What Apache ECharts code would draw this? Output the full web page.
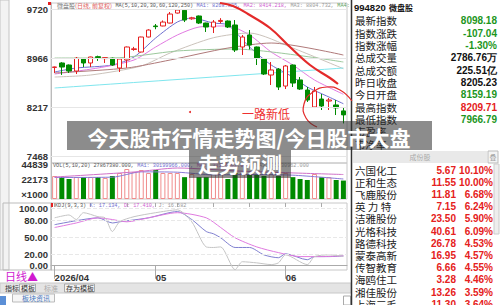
<!DOCTYPE html>
<html>
<head>
<meta charset="utf-8">
<script src="https://cdn.jsdelivr.net/npm/echarts@6/dist/echarts.min.js"></script>
<style>
  html, body { margin: 0; padding: 0; background: #fff; }
  #main { width: 500px; height: 305px; }
</style>
</head>
<body>
<div id="main"></div>
<script>
// 交易日
const dates = ['04-13', '04-14', '04-15', '04-16', '04-17', '04-20', '04-21', '04-22', '04-23', '04-24', '04-27', '04-28', '04-29', '04-30',
  '05-06', '05-07', '05-08', '05-11', '05-12', '05-13', '05-14', '05-15', '05-18', '05-19', '05-20', '05-21', '05-22', '05-25', '05-26', '05-27', '05-28', '05-29',
  '06-01', '06-02', '06-03', '06-04', '06-05', '06-08', '06-09', '06-10', '06-11']
const monthLabels = { '04-13': '2026/04', '05-06': '05', '06-01': '06' }
const weekStarts = ['04-13', '04-20', '04-27', '05-06', '05-11', '05-18', '05-25', '06-01', '06-08']

// K线 开 收 低 高
const opens = [8825, 8893, 8862, 8770, 8954, 8893, 8990, 8960, 8966, 8816, 8940, 9100, 9061, 9291, 9460, 9460, 9505, 9658, 9700, 9570, 9613,
  9505, 9444, 9530, 9536, 9475, 9138, 9322, 9138, 8954, 8709, 8800, 8540, 8862, 8633, 8479, 8219, 8341, 8310, 8250, 8159.19]
const closes = [8832, 8831, 8770, 8966, 8893, 8985, 8975, 8975, 8862, 8954, 9138, 9110, 9291, 9398, 9450, 9520, 9643, 9705, 9551, 9585, 9505,
  9444, 9520, 9545, 9444, 9092, 9291, 9168, 8970, 8724, 8786, 8525, 8847, 8586, 8494, 8326, 8464, 8234, 8326, 8205.23, 8098.18]
const lows = [8740, 8710, 8740, 8724, 8831, 8831, 8925, 8893, 8850, 8755, 8820, 9080, 9055, 9285, 9410, 9455, 9500, 9650, 9520, 9555, 9490,
  9368, 9352, 9500, 9429, 9061, 9015, 9100, 8862, 8709, 8556, 8479, 8494, 8525, 8480, 8296, 8203, 8173, 8173, 8096, 7966.79]
const highs = [8838, 8905, 8870, 8985, 8962, 8990, 9005, 8978, 8975, 8960, 9145, 9140, 9295, 9410, 9490, 9545, 9674, 9715, 9719.96, 9600, 9620,
  9510, 9551, 9580, 9545, 9551, 9322, 9398, 9145, 8960, 8908, 8816, 8862, 8870, 8678, 8525, 8525, 8418, 8356, 8326, 8209.71]

// 成交量(×1000)
const volumes = [34750, 33240, 30220, 33240, 33240, 33240, 33240, 31730, 34750, 39290, 45330, 40800, 43820, 39290, 43820, 39290, 39290, 39290,
  33000, 37800, 33000, 33000, 39300, 37800, 30200, 39300, 39300, 36300, 36300, 34800, 37800, 34800, 39300, 33000, 30200, 28700, 37800, 33000,
  33000, 28700, 27867]

// 均线 [序号, 值]
const ma5 = [[0, 8755], [3, 8816], [8, 8862], [11, 8985], [14, 9276], [17, 9521], [19, 9582], [22, 9505], [24, 9475], [27, 9138], [30, 8862], [33, 8678], [35, 8525], [38, 8372], [40, 8269]]
const ma10 = [[0, 8724], [6, 8816], [11, 8939], [14, 9138], [17, 9322], [20, 9444], [24, 9460], [27, 9322], [30, 9061], [33, 8862], [36, 8632], [40, 8414]]
const ma20 = [[0, 8678], [5, 8709], [12, 8847], [16, 9046], [22, 9280], [27, 9352], [33, 9122], [40, 8805]]
const ma30 = [[0, 8969], [8, 8969], [17, 9077], [25, 9107], [40, 8908]]
const ma60 = [[0, 8740], [10, 8816], [16, 8939], [24, 9122], [30, 9199], [40, 9015]]
const ma250 = [[0, 8510], [40, 8816]]
const volMa5 = [[0, 32500], [8, 33000], [12, 41000], [17, 40500], [22, 36500], [27, 37000], [33, 36000], [40, 30200]]
const volMa10 = [[0, 33200], [11, 40800], [17, 46800], [26, 42000], [40, 37000]]

// KDJ
const kLine = [[0, 72], [3, 79], [6, 84], [8, 75], [9, 77], [13, 84], [17, 95], [19, 81], [21, 60], [22, 56], [23, 49], [25, 32], [27, 32], [29, 19], [31, 14], [32, 21], [35, 10.5], [36, 16], [38, 16], [40, 17.134]]
const dLine = [[0, 67], [3, 75], [6, 84], [8, 81], [10, 77], [13, 84], [17, 93], [21, 84], [23, 67], [25, 49], [28, 33], [31, 23], [34, 16], [37, 16], [40, 17.41]]
const jLine = [[0, 84], [2, 89], [3, 81], [4, 93], [6, 86], [7, 84], [8, 60], [9, 77], [11, 86], [14, 93], [17, 98], [19, 77], [21, 33], [22, 32], [23, 33], [25, -7], [26, 7], [28, 5], [30, 2], [31, 5], [32, 19], [35, 2], [36, 16], [38, 19], [40, 16.582]]

// 刻度
const priceTicks = [7468, 8217, 8966, 9720]
const volTicks = [0, 22173, 44839]
const kdjTicks = [0, 20, 50, 80, 100]

// 右侧行情
const quoteLabels = ['最新指数', '指数涨跌', '指数涨幅', '总成交量', '总成交额', '昨日收盘', '今日开盘', '最高指数', '最低指数', '市盈率', '市净率']
const quoteValues = ['8098.18', '-107.04', '-1.30%', '2786.76万', '225.51亿', '8205.23', '8159.19', '8209.71', '7966.79', '', '']
const quoteTones = ['down', 'down', 'down', 'flat', 'flat', 'flat', 'down', 'up', 'down', 'flat', 'flat']
const stockNames = ['六国化工', '正和生态', '飞鹿股份', '英 力 特', '洁雅股份', '光格科技', '路德科技', '蒙泰高新', '传智教育', '海鸥住工', '湘佳股份', '上海三毛']
const stockPrices = ['5.67', '11.55', '11.81', '7.15', '23.50', '40.61', '26.78', '16.95', '6.66', '3.28', '13.26', '11.30']
const stockPcts = ['10.10%', '10.00%', '6.68%', '6.24%', '5.90%', '6.09%', '4.53%', '4.57%', '4.55%', '4.46%', '3.59%', '3.64%']

const RED = '#e52020'
const GREEN = '#008a00'
const CN = '"Noto Sans CJK SC", sans-serif'
const NUM = '"Liberation Sans", Arial, sans-serif'
const MONO = '"Liberation Mono", "DejaVu Sans Mono", monospace'

const chart = echarts.init(document.getElementById('main'), null, { renderer: 'svg' })

const candleData = dates.map((d, i) => [opens[i], closes[i], lows[i], highs[i]])
const volData = volumes.map((v, i) => {
  const up = closes[i] >= opens[i]
  return {
    value: v,
    itemStyle: up ? { color: '#fff', borderColor: '#f08c8c', borderWidth: 1 } : { color: GREEN }
  }
})

const lineSeries = (name, data, color, xi, yi, width) => ({
  name, type: 'line', data, xAxisIndex: xi, yAxisIndex: yi,
  symbol: 'none', smooth: 0.25, silent: true,
  lineStyle: { color, width: width || 1 }, z: 3
})

const gridLine = (vals) => ({
  silent: true, symbol: 'none', label: { show: false },
  lineStyle: { color: '#e6e6e6', type: 'solid', width: 1 },
  data: vals.map(v => ({ yAxis: v }))
})

const yLabel = { color: '#333', fontFamily: NUM, fontWeight: 'bold', fontSize: 9.5, margin: 3 }
const axisCommon = {
  type: 'category', data: dates, boundaryGap: true,
  axisLine: { show: false }, axisTick: { show: false }, axisLabel: { show: false }
}

// 右侧面板文字
const panel = []
panel.push({
  type: 'text', x: 354, y: 7,
  style: { text: '{a|994820} {b|微盘股}', rich: {
    a: { font: 'bold 9.5px ' + NUM, fill: '#111' },
    b: { font: 'bold 8px ' + CN, fill: '#111' }
  }, verticalAlign: 'middle' }
})
quoteLabels.forEach((t, i) => {
  const y = 20.7 + i * 12.35
  panel.push({ type: 'text', x: 355, y, style: { text: t, font: '10.5px ' + CN, fill: '#222', verticalAlign: 'middle' } })
  const tone = quoteTones[i]
  panel.push({ type: 'text', x: 497, y, style: {
    text: quoteValues[i], font: 'bold 10px ' + NUM, align: 'right', verticalAlign: 'middle',
    fill: tone === 'down' ? '#1c961c' : tone === 'up' ? RED : '#111'
  } })
})
panel.push({ type: 'rect', shape: { x: 353, y: 151, width: 134, height: 12 }, style: { fill: '#e9e9e9' } })
panel.push({ type: 'text', x: 420, y: 157, style: { text: '成份股', font: '7px ' + CN, fill: '#aaa', align: 'center', verticalAlign: 'middle' } })
panel.push({ type: 'rect', shape: { x: 488, y: 151, width: 10, height: 12 }, style: { fill: '#f4f4f4', stroke: '#bbb' } })
panel.push({ type: 'text', x: 493, y: 157, style: { text: '叠', font: '7px ' + CN, fill: '#999', align: 'center', verticalAlign: 'middle' } })
panel.push({ type: 'rect', shape: { x: 494, y: 164, width: 5, height: 70 }, style: { fill: '#eee', stroke: '#ccc' } })
stockNames.forEach((n, i) => {
  const y = 170 + i * 12.2
  panel.push({ type: 'text', x: 355, y, style: { text: n, font: '10.5px ' + CN, fill: '#222', verticalAlign: 'middle' } })
  panel.push({ type: 'text', x: 456, y, style: { text: stockPrices[i], font: 'bold 10px ' + NUM, fill: RED, align: 'right', verticalAlign: 'middle' } })
  panel.push({ type: 'text', x: 493, y, style: { text: stockPcts[i], font: 'bold 10px ' + NUM, fill: RED, align: 'right', verticalAlign: 'middle' } })
})

const option = {
  animation: false,
  backgroundColor: '#fff',
  grid: [
    { left: 51, width: 296, top: 3, height: 160, show: true, borderColor: '#c8c8c8', borderWidth: 1 },
    { left: 51, width: 296, top: 163, height: 36, show: true, borderColor: '#c8c8c8', borderWidth: 1 },
    { left: 51, width: 296, top: 203, height: 67, show: true, borderColor: '#c8c8c8', borderWidth: 1 }
  ],
  xAxis: [
    Object.assign({ gridIndex: 0 }, axisCommon),
    Object.assign({ gridIndex: 1 }, axisCommon),
    {
      type: 'category', data: dates, gridIndex: 2, boundaryGap: true,
      axisLine: { show: true, lineStyle: { color: '#aaa' } },
      axisTick: {
        show: true, alignWithLabel: true, length: 13, lineStyle: { color: '#aaa' },
        interval: (i, v) => !!monthLabels[v]
      },
      axisLabel: {
        show: true, interval: (i, v) => !!monthLabels[v], formatter: v => monthLabels[v] || '',
        align: 'left', margin: 2, color: '#333', fontFamily: NUM, fontWeight: 'bold', fontSize: 9.5
      }
    },
    {
      type: 'category', data: dates, gridIndex: 2, boundaryGap: true,
      axisLine: { show: false }, axisLabel: { show: false },
      axisTick: { show: true, inside: true, alignWithLabel: true, length: 4, lineStyle: { color: '#aaa' }, interval: (i, v) => weekStarts.indexOf(v) >= 0 }
    }
  ],
  yAxis: [
    {
      gridIndex: 0, min: 7361, max: 9812, splitLine: { show: false },
      axisLine: { show: true, lineStyle: { color: '#bbb' } }, axisTick: { show: false },
      axisLabel: Object.assign({ customValues: priceTicks, formatter: v => String(v) }, yLabel)
    },
    {
      gridIndex: 1, min: 0, max: 54400, splitLine: { show: false },
      axisLine: { show: true, lineStyle: { color: '#bbb' } }, axisTick: { show: false },
      axisLabel: Object.assign({ customValues: volTicks, formatter: v => v === 0 ? '×1000' : String(v), verticalAlign: 'bottom' }, yLabel)
    },
    {
      gridIndex: 2, min: -7.5, max: 110, splitLine: { show: false },
      axisLine: { show: true, lineStyle: { color: '#bbb' } }, axisTick: { show: false },
      axisLabel: Object.assign({ customValues: kdjTicks, formatter: v => v.toFixed(2) }, yLabel)
    }
  ],
  series: [
    {
      type: 'candlestick', data: candleData, xAxisIndex: 0, yAxisIndex: 0, barWidth: 5,
      itemStyle: { color: '#fff', color0: GREEN, borderColor: RED, borderColor0: GREEN, borderWidth: 1 },
      markLine: gridLine(priceTicks),
      markPoint: {
        symbol: 'none', silent: true,
        label: { show: true, color: '#666', fontFamily: MONO, fontSize: 5.2 },
        data: [
          { type: 'max', valueDim: 'highest', label: { position: 'right', offset: [-1, 1], formatter: '←' + highs[18] } },
          { type: 'min', valueDim: 'lowest', label: { position: 'left', offset: [1, 0], formatter: lows[40] + '—' } }
        ]
      },
      z: 4
    },
    lineSeries('MA5', ma5, '#6f6fd0', 0, 0),
    lineSeries('MA10', ma10, '#e27ae2', 0, 0),
    lineSeries('MA20', ma20, '#cbc3bb', 0, 0),
    lineSeries('MA30', ma30, '#9cc89c', 0, 0),
    lineSeries('MA60', ma60, '#b07a7a', 0, 0),
    lineSeries('MA250', ma250, '#7fe6ee', 0, 0),
    {
      type: 'bar', data: volData, xAxisIndex: 1, yAxisIndex: 1, barWidth: 5, silent: true, z: 2
    },
    lineSeries('VMA5', volMa5, '#8a7ad8', 1, 1),
    lineSeries('VMA10', volMa10, '#d070c8', 1, 1),
    Object.assign(lineSeries('K', kLine, '#8080d0', 2, 2), { markLine: Object.assign(gridLine([20, 50, 80, 100]), { lineStyle: { color: '#e8e8e8', width: 1 } }) }),
    lineSeries('D', dLine, '#e07ae0', 2, 2),
    lineSeries('J', jLine, '#c4c4c4', 2, 2)
  ],
  graphic: { elements: [
    // 左侧竖条
    { type: 'rect', shape: { x: 0, y: 0, width: 9, height: 270 }, style: { fill: '#f3f3f3', stroke: '#c4c4c4' }, z: 1 },
    { type: 'rect', shape: { x: 3, y: 203, width: 48, height: 67 }, style: { fill: 'none', stroke: '#bbb' }, z: 1 },
    { type: 'rect', shape: { x: 1, y: 2, width: 3, height: 3 }, style: { fill: RED } },
    { type: 'rect', shape: { x: 48, y: 2, width: 3, height: 3 }, style: { fill: RED } },
    // 图例
    { type: 'text', x: 57, y: 5.5, z: 10, style: {
      text: '{a|微盘股}{b|(日线, 前复权)} {c|MA(5,10,20,30,60,120,250)} {d|MA1: 8268.825,} {e|MA2: 8414.218,} {f|MA3: 8804.732,} {g|MA4:}',
      verticalAlign: 'middle',
      rich: {
        a: { font: '6px ' + CN, fill: '#777' }, b: { font: '6px ' + CN, fill: '#e06060' },
        c: { font: '5.2px ' + MONO, fill: '#555' }, d: { font: '5.2px ' + MONO, fill: '#6f6fd0' },
        e: { font: '5.2px ' + MONO, fill: '#d060d0' }, f: { font: '5.2px ' + MONO, fill: '#999' },
        g: { font: '5.2px ' + MONO, fill: '#5aa05a' }
      }
    } },
    { type: 'text', x: 53, y: 166, z: 10, style: {
      text: '{c|VOL(5,10,20) 27867380.000,} {d|MA1: 30199966.000,} {e|MA2: 33106802.000,} {f|MA3: 35230962.000}',
      verticalAlign: 'middle',
      rich: {
        c: { font: '5.2px ' + MONO, fill: '#555' }, d: { font: '5.2px ' + MONO, fill: '#6f6fd0' },
        e: { font: '5.2px ' + MONO, fill: '#d060d0' }, f: { font: '5.2px ' + MONO, fill: '#999' }
      }
    } },
    { type: 'rect', shape: { x: 51, y: 203, width: 2, height: 4 }, style: { fill: RED }, z: 10 },
    { type: 'text', x: 55, y: 206, z: 10, style: {
      text: '{c|KDJ(9,3,3)} {d|K: 17.134,} {e|D: 17.410,} {f|J: 16.582}',
      verticalAlign: 'middle',
      rich: {
        c: { font: '5.2px ' + MONO, fill: '#555' }, d: { font: '5.2px ' + MONO, fill: '#6f6fd0' },
        e: { font: '5.2px ' + MONO, fill: '#d060d0' }, f: { font: '5.2px ' + MONO, fill: '#999' }
      }
    } },
    // 日线
    { type: 'text', x: 5, y: 276, style: { text: '日线▲', font: '11px ' + CN, fill: '#d01ad0', verticalAlign: 'middle' } },
    // 底部工具条
    { type: 'rect', shape: { x: 0, y: 283, width: 351, height: 10 }, style: { fill: '#e4e4e4', stroke: '#c8c8c8' } },
    { type: 'text', x: 5, y: 288, style: { text: '指标', font: '7px ' + CN, fill: '#333', verticalAlign: 'middle' } },
    { type: 'rect', shape: { x: 19.5, y: 284, width: 16, height: 8 }, style: { fill: '#f2f2f2', stroke: '#aaa' } },
    { type: 'text', x: 21, y: 288, style: { text: '模板', font: '7px ' + CN, fill: '#333', verticalAlign: 'middle' } },
    { type: 'text', x: 44, y: 288, style: { text: '标准', font: '7px ' + CN, fill: '#aaa', verticalAlign: 'middle' } },
    { type: 'rect', shape: { x: 64.5, y: 284, width: 30, height: 8 }, style: { fill: '#f2f2f2', stroke: '#aaa' } },
    { type: 'text', x: 66, y: 288, style: { text: '存为模板', font: '7px ' + CN, fill: '#333', verticalAlign: 'middle' } },
    { type: 'rect', shape: { x: 12.5, y: 294, width: 42, height: 8 }, style: { fill: '#f6f6f6', stroke: '#bbb' } },
    { type: 'text', x: 22, y: 298, style: { text: '板块资讯', font: '7px ' + CN, fill: '#4a78c0', verticalAlign: 'middle' } },
    { type: 'rect', shape: { x: 0, y: 296, width: 6, height: 9 }, style: { fill: '#5b8fd6' } },
    { type: 'rect', shape: { x: 343.5, y: 296, width: 7, height: 9 }, style: { fill: '#fff', stroke: '#aaa' } },
    // 分隔线
    { type: 'line', shape: { x1: 351.5, y1: 0, x2: 351.5, y2: 305 }, style: { stroke: '#333', lineWidth: 1.5 } },
    // 标注
    { type: 'polyline', z: 20, shape: { points: [[220, 3], [233, 6], [248, 14], [270, 28], [290, 47], [310, 65], [330, 78], [338, 84]], smooth: 0.4 },
      style: { stroke: '#e42a2a', lineWidth: 2.2, fill: 'none' } },
    { type: 'polyline', z: 20, shape: { points: [[352, 101], [340, 90], [327, 87], [313, 92], [304, 104], [306, 118], [317, 127]], smooth: 0.5 },
      style: { stroke: '#e42a2a', lineWidth: 1.2, fill: 'none' } },
    { type: 'text', x: 266, y: 113, z: 20, style: { text: '一路新低', font: '12px ' + CN, fill: '#ee3030', align: 'center', verticalAlign: 'middle' } },
    { type: 'circle', z: 20, shape: { cx: 190, cy: 112, r: 1 }, style: { fill: '#e42a2a' } },
    // 标题横幅
    { type: 'rect', z: 30, shape: { x: 67, y: 121, width: 365, height: 29 }, style: { fill: 'rgba(45,45,45,0.55)' } },
    { type: 'rect', z: 30, shape: { x: 189, y: 150, width: 102, height: 28 }, style: { fill: 'rgba(45,45,45,0.55)' } },
    { type: 'text', z: 31, x: 249, y: 137, style: { text: '今天股市行情走势图/今日股市大盘', font: 'bold 21px ' + CN, fill: '#fff', align: 'center', verticalAlign: 'middle' } },
    { type: 'text', z: 31, x: 240, y: 163, style: { text: '走势预测', font: 'bold 21px ' + CN, fill: '#fff', align: 'center', verticalAlign: 'middle' } }
  ].concat(panel) }
}

chart.setOption(option)
</script>
</body>
</html>
